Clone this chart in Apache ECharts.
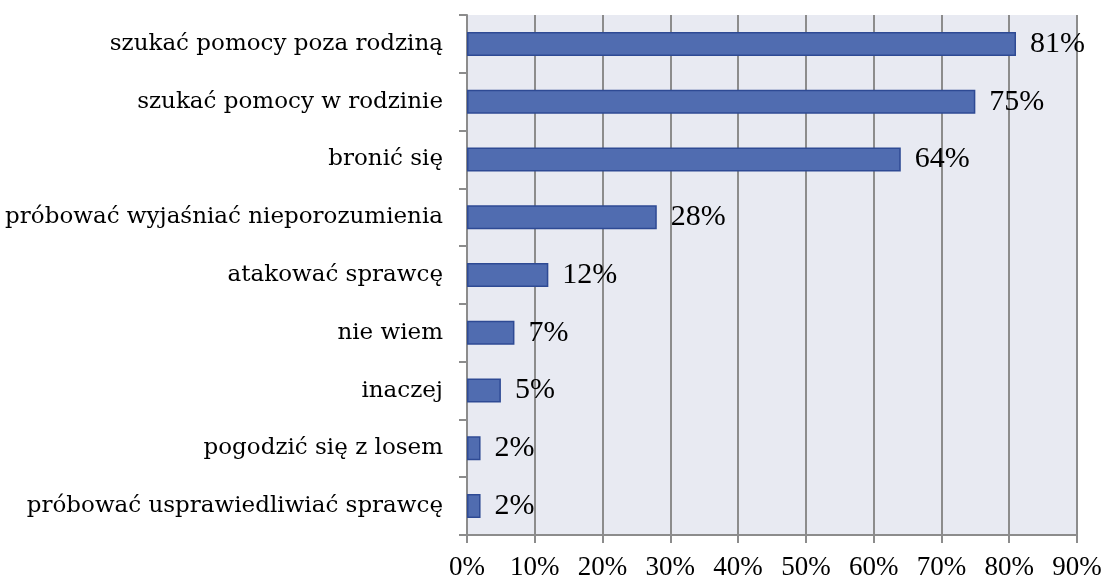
<!DOCTYPE html>
<html lang="pl">
<head>
    <meta charset="UTF-8">
    <title>wykres</title>
    <style>
        body{ margin:0; background:#fff; }
        #main{ width:1104px; height:579px; }
    </style>
    <script src="https://cdn.jsdelivr.net/npm/echarts@6/dist/echarts.min.js"></script>
</head>
<body>
<div id="main"></div>
<script type="text/javascript">
    // dane z wykresu (od góry)
    var categories = [
        'szukać pomocy poza rodziną',
        'szukać pomocy w rodzinie',
        'bronić się',
        'próbować wyjaśniać nieporozumienia',
        'atakować sprawcę',
        'nie wiem',
        'inaczej',
        'pogodzić się z losem',
        'próbować usprawiedliwiać sprawcę'
    ];
    var values = [81, 75, 64, 28, 12, 7, 5, 2, 2];

    var font = 'Liberation Serif';
    var myChart = echarts.init(document.getElementById('main'));

    var option = {
        animation: false,
        grid: { left: 467, right: 27, top: 15, bottom: 44, containLabel: false,
                outerBoundsMode: 'none',
                show: true, backgroundColor: '#e8eaf2', borderWidth: 0 },
        xAxis: {
            type: 'value',
            min: 0, max: 90, interval: 10,
            axisLine: { show: true, lineStyle: { color: '#8c8c8c', width: 2 } },
            axisTick: { show: true, length: 8, lineStyle: { color: '#8c8c8c', width: 2 } },
            axisLabel: { formatter: '{value}%', color: '#000', fontFamily: font, fontSize: 27, margin: 19 },
            splitLine: { show: true, lineStyle: { color: '#8c8c8c', width: 2 } }
        },
        yAxis: {
            type: 'category',
            data: categories,
            inverse: true,
            axisLine: { show: true, lineStyle: { color: '#8c8c8c', width: 2 } },
            axisTick: { show: true, length: 8, lineStyle: { color: '#8c8c8c', width: 2 } },
            axisLabel: { color: '#000', fontFamily: 'DejaVu Serif', fontSize: 23, margin: 24 },
            splitLine: { show: false }
        },
        series: [{
            type: 'bar',
            data: values,
            barWidth: 24,
            itemStyle: { color: '#506cb0', borderColor: '#2e4a94', borderWidth: 1.5 },
            label: {
                show: true, position: 'right', distance: 14,
                formatter: '{c}%', color: '#000', fontFamily: font, fontSize: 30
            }
        }]
    };
    myChart.setOption(option);
</script>
</body>
</html>
